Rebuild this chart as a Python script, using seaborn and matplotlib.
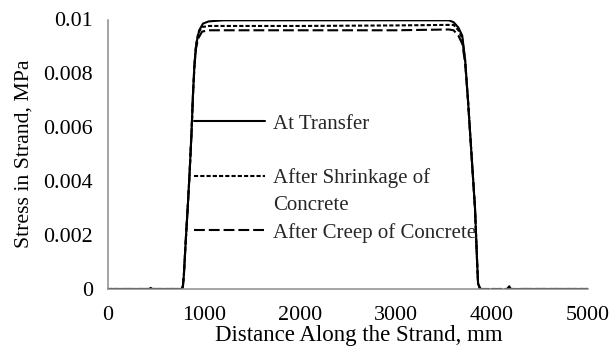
import numpy as np
import pandas as pd
import matplotlib
matplotlib.use("Agg")
import matplotlib.pyplot as plt
from matplotlib.lines import Line2D
import seaborn as sns

# ---- data ----
x_transfer = [0, 300, 430, 445, 460, 770, 780, 790, 810, 830, 850, 870, 885, 900, 920, 950, 990, 1050, 1200,
              2000, 3000, 3550, 3600, 3650, 3690, 3720, 3750, 3790, 3823, 3845, 3855, 3880, 4000, 4150, 4180,
              4200, 4300, 5000]
y_transfer = [0, 0, 0, 0.00004, 0, 0, 0.0001, 0.0005, 0.0018, 0.0030, 0.0043, 0.0058, 0.0072, 0.0083,
              0.0091, 0.0096, 0.00985, 0.00993, 0.00997, 0.00997, 0.00997, 0.00997, 0.0099, 0.0097, 0.0094,
              0.0085, 0.0070, 0.0048, 0.0030, 0.0010, 0.0002, -0.00005, -0.00007, -0.00003, 0.0001, -0.00003,
              0, 0]

x_shrink = [0, 770, 780, 790, 810, 830, 850, 870, 885, 900, 915, 940, 980, 1050, 2000, 3000, 3550, 3600,
            3650, 3690, 3720, 3750, 3790, 3823, 3845, 3855, 3880, 5000]
y_shrink = [0, 0, 0.0001, 0.0005, 0.0018, 0.0030, 0.0043, 0.0058, 0.0072, 0.0083, 0.0090, 0.0095, 0.00972,
            0.00976, 0.00976, 0.00978, 0.0098, 0.0098, 0.0096, 0.0093, 0.0085, 0.0070, 0.0048, 0.0030, 0.0010,
            0.0002, 0, 0]

x_creep = [0, 770, 780, 790, 810, 830, 850, 870, 885, 900, 915, 940, 980, 1050, 2000, 3000, 3550, 3600,
           3650, 3690, 3720, 3750, 3790, 3823, 3845, 3855, 3880, 5000]
y_creep = [0, 0, 0.0001, 0.0005, 0.0018, 0.0030, 0.0043, 0.0058, 0.0072, 0.0082, 0.0089, 0.0093, 0.00955,
           0.0096, 0.0096, 0.0096, 0.00963, 0.0096, 0.0094, 0.0091, 0.0084, 0.0070, 0.0048, 0.0030, 0.0010,
           0.0002, 0, 0]

series_labels = ["At Transfer", "After Shrinkage of\nConcrete", "After Creep of Concrete"]
x_ticks = [0, 1000, 2000, 3000, 4000, 5000]
y_ticks = [0, 0.002, 0.004, 0.006, 0.008, 0.01]
y_tick_labels = ["0", "0.002", "0.004", "0.006", "0.008", "0.01"]

sns.set_theme(style="white")
plt.rcParams["font.family"] = ["Liberation Serif", "DejaVu Serif"]

fig = plt.figure(figsize=(6.13, 3.58), dpi=100)
ax = fig.add_axes([108 / 613, 1 - 289 / 358, 480 / 613, (289 - 19.5) / 358])

lw = 1.5
sns.lineplot(x=x_transfer, y=y_transfer, ax=ax, color="black", linewidth=lw, sort=False, estimator=None)
sns.lineplot(x=x_shrink, y=y_shrink, ax=ax, color="black", linewidth=lw, sort=False, estimator=None,
             linestyle=(0, (2.0, 1.0)))
sns.lineplot(x=x_creep, y=y_creep, ax=ax, color="black", linewidth=lw, sort=False, estimator=None,
             linestyle=(0, (5.2, 1.9)))

ax.set_xlim(0, 5000)
ax.set_ylim(0, 0.01)
ax.set_xticks(x_ticks)
ax.set_xticklabels([str(t) for t in x_ticks])
ax.set_yticks(y_ticks)
ax.set_yticklabels(y_tick_labels)
ax.tick_params(axis="both", length=0, labelsize=15.8, colors="black")
ax.tick_params(axis="y", pad=11)
ax.tick_params(axis="x", pad=12.5)

for s in ["top", "right"]:
    ax.spines[s].set_visible(False)
for s in ["left", "bottom"]:
    ax.spines[s].set_color("#8c8c8c")
    ax.spines[s].set_linewidth(1.1)

ax.set_xlabel("Distance Along the Strand, mm", fontsize=16.5, color="black", labelpad=-2)
ax.set_ylabel("Stress in Strand, MPa", fontsize=15.7, color="black", labelpad=7)
ax.xaxis.set_label_coords(0.523, -0.134)

lines = ax.get_lines()
blank = Line2D([], [], color="none")
first, second = series_labels[1].split("\n")
handles = [lines[0], blank, lines[1], blank, lines[2]]
labels = [series_labels[0], "", first, second, series_labels[2]]
leg = ax.legend(handles, labels, loc="upper left", bbox_to_anchor=(194 / 613, 1 - 114 / 358),
                bbox_transform=fig.transFigure, frameon=False, fontsize=15, handlelength=3.4,
                handletextpad=0.4, labelspacing=0.36, borderpad=0, borderaxespad=0)

fig.savefig("out.png", dpi=100)
